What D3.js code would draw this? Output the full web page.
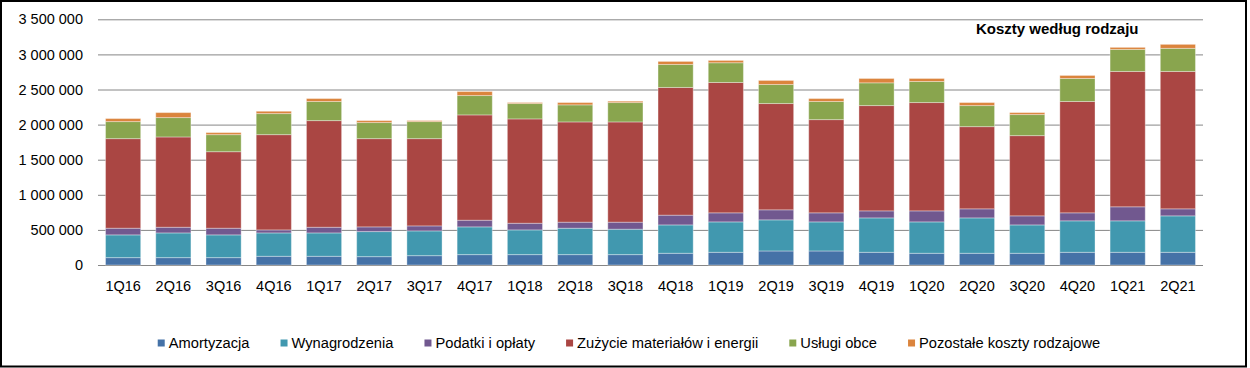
<!DOCTYPE html>
<html>
<head>
<meta charset="utf-8">
<script src="https://cdn.jsdelivr.net/npm/d3@7"></script>
<style>
  html, body { margin: 0; padding: 0; background: #fff; }
  svg { display: block; }
  text { font-family: "Liberation Sans", Arial, sans-serif; fill: #000; }
</style>
</head>
<body>
<svg id="chart" width="1250" height="368"></svg>
<script>
// ---- data ----
const categories = ["1Q16","2Q16","3Q16","4Q16","1Q17","2Q17","3Q17","4Q17","1Q18","2Q18","3Q18","4Q18",
                    "1Q19","2Q19","3Q19","4Q19","1Q20","2Q20","3Q20","4Q20","1Q21","2Q21"];
const seriesNames = ["Amortyzacja","Wynagrodzenia","Podatki i opłaty","Zużycie materiałów i energii","Usługi obce","Pozostałe koszty rodzajowe"];
const amortyzacja   = [105000,105000,105000,124000,124000,119000,133000,148000,148000,148000,148000,167000,181000,200000,200000,181000,167000,167000,167000,181000,181000,181000];
const wynagrodzenia = [324000,352000,324000,333000,333000,357000,353000,395000,352000,376000,362000,404000,433000,443000,414000,490000,447000,504000,404000,448000,448000,519000];
const podatki       = [95000,81000,95000,43000,81000,67000,71000,95000,95000,86000,100000,139000,129000,143000,129000,100000,157000,129000,129000,114000,200000,100000];
const zuzycie       = [1276000,1286000,1090000,1357000,1519000,1257000,1243000,1500000,1486000,1428000,1428000,1819000,1857000,1514000,1328000,1500000,1543000,1171000,1143000,1586000,1928000,1957000];
const uslugi        = [243000,276000,243000,300000,272000,229000,243000,276000,219000,243000,276000,328000,281000,271000,258000,324000,300000,300000,300000,328000,314000,329000];
const pozostale     = [43000,71000,29000,33000,42000,28000,14000,57000,14000,33000,19000,43000,33000,58000,42000,62000,43000,43000,28000,43000,29000,57000];
const yTickValues = [0,500000,1000000,1500000,2000000,2500000,3000000,3500000];
const titleText = "Koszty według rodzaju";

// ---- styles ----
const colors = ["#4572A7","#4198AF","#71588F","#AA4643","#89A54E","#DB843D"];

const seriesValues = [amortyzacja, wynagrodzenia, podatki, zuzycie, uslugi, pozostale];
const table = categories.map((c, i) => {
  const row = { cat: c };
  seriesNames.forEach((s, k) => row[s] = seriesValues[k][i]);
  return row;
});
const stacked = d3.stack().keys(seriesNames)(table);

const svg = d3.select("#chart");
const plotLeft = 98, plotRight = 1203, plotTop = 19.3, plotBottom = 265;

const x = d3.scaleBand().domain(categories).range([plotLeft, plotRight]).paddingInner(0.3).paddingOuter(0.15);
const y = d3.scaleLinear().domain([0, 3500000]).range([plotBottom, plotTop]);

const locale = d3.formatLocale({ decimal: ",", thousands: " ", grouping: [3], currency: ["", ""] });
const fmt = locale.format(",d");

// gridlines + y labels
const yAxis = svg.append("g")
  .attr("transform", `translate(${plotLeft},0)`)
  .call(d3.axisLeft(y).tickValues(yTickValues).tickFormat(fmt).tickSize(-(plotRight - plotLeft)).tickPadding(15));
yAxis.select(".domain").remove();
yAxis.selectAll(".tick line").attr("stroke", "#868686").attr("stroke-width", 1);
yAxis.selectAll(".tick text").attr("font-size", "14.5px").attr("font-family", "Liberation Sans, Arial, sans-serif").attr("fill", "#000");

// bars
svg.append("g").selectAll("g").data(stacked).join("g")
  .attr("fill", (d, i) => colors[i])
  .selectAll("rect").data(d => d).join("rect")
  .attr("x", d => x(d.data.cat))
  .attr("width", x.bandwidth())
  .attr("y", d => y(d[1]))
  .attr("height", d => y(d[0]) - y(d[1]))
  .attr("stroke", "rgba(255,255,255,0.35)")
  .attr("stroke-width", 1);

// x axis labels
const xAxis = svg.append("g")
  .attr("transform", `translate(0,${plotBottom})`)
  .call(d3.axisBottom(x).tickSize(0).tickPadding(15.5));
xAxis.select(".domain").remove();
xAxis.selectAll(".tick text").attr("font-size", "14.5px").attr("font-family", "Liberation Sans, Arial, sans-serif").attr("fill", "#000");

// title
svg.append("text")
  .attr("x", 976).attr("y", 34)
  .attr("font-size", "15px").attr("font-weight", "bold")
  .text(titleText);

// legend
const legend = svg.append("g");
let cx = 0;
seriesNames.forEach((s, i) => {
  const g = legend.append("g").attr("transform", `translate(${cx},0)`);
  g.append("rect").attr("x", 0).attr("y", -3.5).attr("width", 7).attr("height", 7).attr("fill", colors[i]);
  const t = g.append("text").attr("x", 11).attr("y", 0).attr("dy", "0.35em")
    .attr("font-size", "14.7px").text(s);
  cx += 11 + t.node().getComputedTextLength() + 31;
});
const legendWidth = cx - 31;
legend.attr("transform", `translate(${629 - legendWidth / 2},343)`);

// frame
svg.append("rect").attr("x", 1).attr("y", 1).attr("width", 1245).attr("height", 365.5)
  .attr("fill", "none").attr("stroke", "#000").attr("stroke-width", 2);
</script>
</body>
</html>
